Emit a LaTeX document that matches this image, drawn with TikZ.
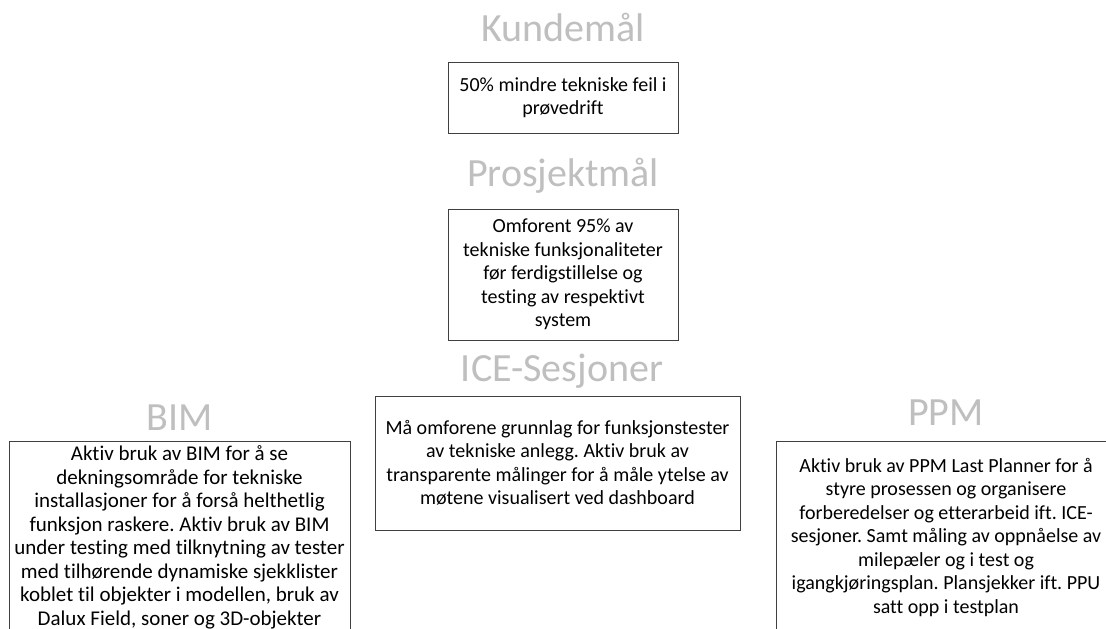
\documentclass[tikz,border=0pt]{standalone}
\usepackage{fontspec}
\setmainfont{Carlito}[Ligatures=NoCommon]
\frenchspacing
\definecolor{headgray}{RGB}{191,191,191}
\definecolor{framegray}{RGB}{64,64,64}
\tikzset{
  heading/.style={anchor=base, inner sep=0pt, text=headgray,
    font=\fontsize{40}{48}\selectfont},
  goalbox/.style={draw=framegray, line width=1pt, align=center,
    inner sep=0pt, font=\fontsize{20}{23.5}\selectfont}
}
\begin{document}
\begin{tikzpicture}[x=1pt, y=-1pt]
  \useasboundingbox (0,0) rectangle (1106,629);
  \fill[white] (0,0) rectangle (1106,629);
  \clip (0,0) rectangle (1106,629);

  % section headings
  \node[heading] (hkunde) at (563,41) {Kundemål};
  \node[heading] (hprosj) at (563,186) {Prosjektmål};
  \node[heading] (hice)   at (562,381) {ICE-Sesjoner};
  \node[heading] (hbim)   at (179.5,430) {BIM};
  \node[heading] (hppm)   at (946,425) {PPM};

  % goal boxes
  \node[goalbox, minimum width=230, minimum height=71] (kunde) at (563,97.5)
    {50\% mindre tekniske feil i\\prøvedrift};
  \node[goalbox, minimum width=230, minimum height=131] (prosj) at (563,274.5)
    {Omforent 95\% av\\tekniske funksjonaliteter\\før ferdigstillelse og\\testing av respektivt\\system};
  \node[goalbox, minimum width=365, minimum height=134] (ice) at (557.5,463)
    {Må omforene grunnlag for funksjonstester\\av tekniske anlegg. Aktiv bruk av\\transparente målinger for å måle ytelse av\\møtene visualisert ved dashboard};
  \node[goalbox, minimum width=341, minimum height=193,
        font=\fontsize{21}{23.5}\selectfont] (bim) at (179.5,537.5)
    {Aktiv bruk av BIM for å se\\dekningsområde for tekniske\\installasjoner for å forså helthetlig\\funksjon raskere. Aktiv bruk av BIM\\under testing med tilknytning av tester\\med tilhørende dynamiske sjekklister\\koblet til objekter i modellen, bruk av\\Dalux Field, soner og 3D-objekter};
  \node[goalbox, minimum width=340, minimum height=193] (ppm) at (946,537.5)
    {Aktiv bruk av PPM Last Planner for å\\styre prosessen og organisere\\forberedelser og etterarbeid ift. ICE-\\sesjoner. Samt måling av oppnåelse av\\milepæler og i test og\\igangkjøringsplan. Plansjekker ift. PPU\\satt opp i testplan};
\end{tikzpicture}
\end{document}
